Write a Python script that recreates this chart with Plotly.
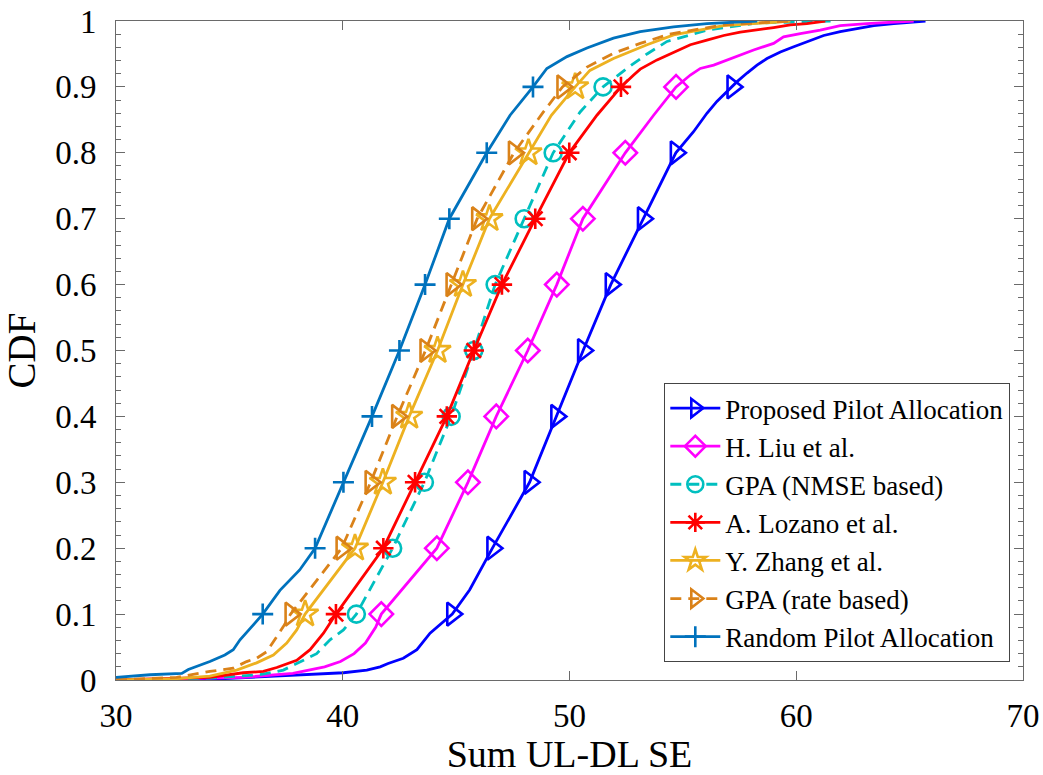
import plotly.graph_objects as go

# CDF levels at which each curve carries a marker
marker_levels = [0.1, 0.2, 0.3, 0.4, 0.5, 0.6, 0.7, 0.8, 0.9]

# Proposed Pilot Allocation
prop_x = [30.0, 34.14, 40.03, 41.06, 41.65, 42.0, 42.67, 43.27, 43.85, 44.44, 44.83, 45.6, 46.6,
          48.24, 49.42, 50.6, 51.82, 53.24, 54.69, 55.47, 56.06, 56.5, 56.95, 57.19, 57.39, 57.83,
          58.27, 58.71, 59.3, 59.89, 60.47, 61.21, 61.94, 62.68, 63.42, 64.3, 65.7]
prop_y = [0.0, 0.001, 0.011, 0.015, 0.02, 0.025, 0.033, 0.046, 0.071, 0.089, 0.1, 0.137, 0.2,
          0.3, 0.4, 0.5, 0.6, 0.7, 0.8, 0.832, 0.86, 0.878, 0.893, 0.9, 0.908, 0.921,
          0.933, 0.943, 0.953, 0.961, 0.969, 0.978, 0.984, 0.989, 0.993, 0.996, 1.0]

# H. Liu et al.
liu_x = [30.0, 35.6, 37.8, 39.2, 39.9, 40.5, 41.0, 41.45, 41.7, 44.15, 45.52, 46.77, 48.16, 49.44,
         50.59, 52.46, 53.71, 54.7, 55.33, 55.77, 56.36, 56.95, 57.53, 58.12, 59.0, 59.44, 60.18,
         61.06, 61.94, 63.12, 65.18]
liu_y = [0.0, 0.004, 0.01, 0.02, 0.028, 0.04, 0.056, 0.08, 0.1, 0.2, 0.3, 0.4, 0.5, 0.6,
         0.7, 0.8, 0.857, 0.9, 0.918, 0.928, 0.933, 0.941, 0.948, 0.956, 0.966, 0.976, 0.981,
         0.986, 0.993, 0.996, 1.0]

# GPA (NMSE based)
gpa_nmse_x = [30.0, 34.14, 36.35, 37.38, 37.97, 38.85, 39.44, 40.03, 40.6, 42.2, 43.6, 44.78,
              45.78, 46.72, 48.0, 49.28, 50.47, 51.48, 52.53, 53.42, 54.3, 56.06, 58.27, 60.18, 61.65]
gpa_nmse_y = [0.0, 0.003, 0.008, 0.015, 0.025, 0.04, 0.061, 0.076, 0.1, 0.2, 0.3, 0.4,
              0.5, 0.6, 0.7, 0.8, 0.862, 0.9, 0.928, 0.95, 0.969, 0.986, 0.997, 0.999, 1.0]

# A. Lozano et al.
lozano_x = [30.0, 34.14, 35.61, 36.5, 37.09, 37.97, 38.56, 39.15, 39.7, 41.79, 43.19, 44.59,
            45.78, 47.02, 48.49, 49.99, 51.21, 52.27, 52.83, 53.12, 53.86, 54.59, 55.33, 56.06,
            56.8, 57.53, 58.27, 59.0, 59.74, 60.47, 61.28]
lozano_y = [0.0, 0.004, 0.011, 0.013, 0.019, 0.03, 0.046, 0.071, 0.1, 0.2, 0.3, 0.4,
            0.5, 0.6, 0.7, 0.8, 0.857, 0.9, 0.918, 0.927, 0.941, 0.953, 0.964, 0.971,
            0.978, 0.983, 0.986, 0.99, 0.994, 0.996, 1.0]

# Y. Zhang et al.
zhang_x = [30.0, 32.67, 34.14, 35.32, 36.2, 36.94, 37.53, 37.97, 38.34, 40.54, 41.77, 42.93,
           44.18, 45.3, 46.47, 48.19, 49.2, 50.25, 50.9, 51.94, 53.42, 54.59, 56.8, 59.0, 59.74]
zhang_y = [0.0, 0.002, 0.006, 0.015, 0.026, 0.038, 0.056, 0.076, 0.1, 0.2, 0.3, 0.4,
           0.5, 0.6, 0.7, 0.8, 0.857, 0.9, 0.925, 0.943, 0.964, 0.979, 0.993, 0.998, 1.0]

# GPA (rate based)
gpa_rate_x = [30.0, 32.67, 34.14, 35.17, 35.76, 36.2, 36.65, 37.09, 37.38, 37.7, 39.95, 41.23,
              42.4, 43.65, 44.8, 45.93, 47.55, 48.85, 49.69, 50.77, 51.94, 53.12, 54.4, 56.8,
              58.71, 59.89]
gpa_rate_y = [0.0, 0.004, 0.013, 0.018, 0.028, 0.033, 0.043, 0.066, 0.081, 0.1, 0.2, 0.3,
              0.4, 0.5, 0.6, 0.7, 0.8, 0.862, 0.9, 0.93, 0.951, 0.966, 0.98, 0.994,
              0.998, 1.0]

# Random Pilot Allocation
random_x = [30.0, 31.5, 32.9, 33.19, 34.14, 34.8, 35.17, 35.47, 35.91, 36.47, 37.23, 38.1, 38.78,
            40.03, 41.29, 42.5, 43.63, 44.7, 46.35, 47.38, 48.39, 49.0, 49.89, 50.77, 51.94,
            53.12, 54.59, 56.06, 58.27]
random_y = [0.004, 0.008, 0.01, 0.016, 0.028, 0.038, 0.046, 0.061, 0.078, 0.1, 0.136, 0.167, 0.2,
            0.3, 0.4, 0.5, 0.6, 0.7, 0.8, 0.857, 0.9, 0.928, 0.946, 0.959, 0.974,
            0.984, 0.991, 0.996, 1.0]

series = [
    dict(name="Proposed Pilot Allocation", x=prop_x, y=prop_y, color="#0000FF",
         dash="solid", symbol="triangle-right-open", size=20),
    dict(name="H. Liu et al.", x=liu_x, y=liu_y, color="#FF00FF",
         dash="solid", symbol="diamond-open", size=18),
    dict(name="GPA (NMSE based)", x=gpa_nmse_x, y=gpa_nmse_y, color="#00BFBF",
         dash="11px,7px", symbol="circle-open", size=17),
    dict(name="A. Lozano et al.", x=lozano_x, y=lozano_y, color="#FF0000",
         dash="solid", symbol="asterisk-open", size=17),
    dict(name="Y. Zhang et al.", x=zhang_x, y=zhang_y, color="#EDB120",
         dash="solid", symbol="star-open", size=20),
    dict(name="GPA (rate based)", x=gpa_rate_x, y=gpa_rate_y, color="#DA8219",
         dash="11px,7px", symbol="triangle-right-open", size=20),
    dict(name="Random Pilot Allocation", x=random_x, y=random_y, color="#0072BD",
         dash="solid", symbol="cross-thin-open", size=15),
]

FONT = "Liberation Serif"
AXIS_COLOR = "#6a6a6a"

fig = go.Figure()
for s in series:
    line = dict(color=s["color"], width=2.8, dash=s["dash"])
    marker = dict(symbol=s["symbol"], size=s["size"], color=s["color"],
                  line=dict(color=s["color"], width=2.6))
    mx = [x for x, y in zip(s["x"], s["y"]) if y in marker_levels]
    my = [y for y in s["y"] if y in marker_levels]
    fig.add_trace(go.Scatter(x=s["x"], y=s["y"], mode="lines", line=line,
                             showlegend=False, hoverinfo="skip"))
    fig.add_trace(go.Scatter(x=mx, y=my, mode="markers", marker=marker,
                             showlegend=False, hoverinfo="skip"))
    # legend key: line with its marker
    fig.add_trace(go.Scatter(x=[None], y=[None], mode="lines+markers", name=s["name"],
                             line=line, marker=marker, legendgroup=s["name"]))

fig.update_layout(
    width=1043, height=775,
    margin=dict(l=116, r=20, t=21, b=95),
    paper_bgcolor="white", plot_bgcolor="white",
    font=dict(family=FONT, color="black", size=30),
    showlegend=True,
    legend=dict(
        x=0.986, y=0.239, xanchor="right", yanchor="middle",
        bgcolor="white", bordercolor="#444444", borderwidth=1,
        font=dict(family=FONT, size=27, color="black"),
        itemwidth=50, tracegroupgap=0,
    ),
)
fig.update_xaxes(
    range=[30, 70], dtick=10, tick0=30, automargin=False,
    showline=True, linecolor=AXIS_COLOR, linewidth=1, mirror="ticks",
    ticks="inside", ticklen=9, tickcolor=AXIS_COLOR, tickwidth=1,
    showgrid=False, zeroline=False,
    tickfont=dict(family=FONT, size=33, color="black"),
    ticklabelstandoff=6,
    title=dict(text="Sum UL-DL SE", font=dict(family=FONT, size=38, color="black"), standoff=4),
)
fig.update_yaxes(
    range=[0, 1], dtick=0.1, tick0=0, automargin=False,
    showline=True, linecolor=AXIS_COLOR, linewidth=1, mirror="allticks",
    ticks="inside", ticklen=9, tickcolor=AXIS_COLOR, tickwidth=1,
    minor=dict(dtick=0.02, ticks="inside", ticklen=5, tickcolor=AXIS_COLOR, showgrid=False),
    showgrid=False, zeroline=False,
    tickfont=dict(family=FONT, size=33, color="black"),
    ticklabelstandoff=12,
    title=dict(text="CDF", font=dict(family=FONT, size=39, color="black"), standoff=10),
)

fig.write_html("out.html")
